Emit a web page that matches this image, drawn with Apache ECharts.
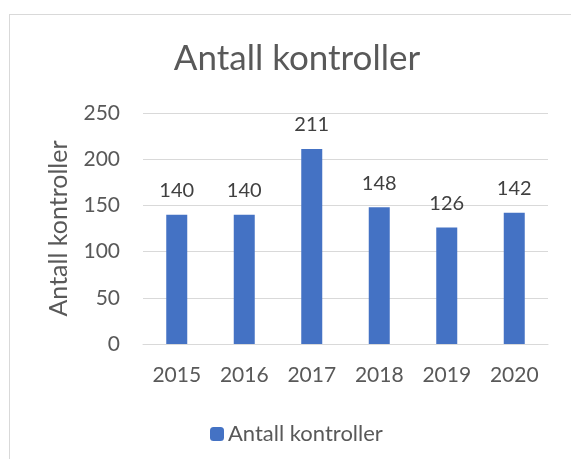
<!DOCTYPE html>
<html>
<head>
<meta charset="utf-8">
<script src="https://cdn.jsdelivr.net/npm/echarts@6/dist/echarts.min.js"></script>
<style>
  html, body { margin: 0; padding: 0; background: #fff; }
  #frame { position: absolute; left: 9px; top: 14px; width: 600px; height: 500px; border: 1px solid #d9d9d9; box-sizing: border-box; }
  #chart { position: absolute; left: 0; top: 0; width: 571px; height: 459px; }
</style>
</head>
<body>
<div id="frame"></div>
<div id="chart"></div>
<script>
// data
var years = ['2015', '2016', '2017', '2018', '2019', '2020'];
var kontroller = [140, 140, 211, 148, 126, 142];
var yTicks = [0, 50, 100, 150, 200, 250];

var font = 'Lato, "Open Sans", sans-serif';
var textColor = '#595959';

var chart = echarts.init(document.getElementById('chart'));
chart.setOption({
  animation: false,
  textStyle: { fontFamily: font },
  title: {
    text: 'Antall kontroller',
    left: 292,
    textAlign: 'center',
    top: 36,
    textStyle: { fontFamily: font, fontSize: 35, fontWeight: 'normal', color: textColor }
  },
  legend: {
    top: 418,
    left: 205,
    itemWidth: 14,
    itemHeight: 14,
    itemGap: 4,
    textStyle: { fontFamily: font, fontSize: 22, color: textColor, padding: [0, 0, 0, -1] },
    data: ['Antall kontroller']
  },
  grid: { left: 143, right: 23, top: 113, bottom: 115 },
  xAxis: {
    type: 'category',
    data: years,
    axisLine: { lineStyle: { color: '#d9d9d9', width: 1 } },
    axisTick: { show: false },
    axisLabel: { fontFamily: font, fontSize: 21, color: textColor, margin: 21 }
  },
  yAxis: {
    type: 'value',
    min: yTicks[0],
    max: yTicks[yTicks.length - 1],
    interval: 50,
    name: 'Antall kontroller',
    nameLocation: 'middle',
    nameGap: 72,
    nameTextStyle: { fontFamily: font, fontSize: 25, color: textColor },
    axisLine: { show: false },
    axisTick: { show: false },
    splitLine: { lineStyle: { color: '#d9d9d9', width: 1 } },
    axisLabel: { fontFamily: font, fontSize: 21, color: textColor, margin: 23 }
  },
  series: [{
    name: 'Antall kontroller',
    type: 'bar',
    data: kontroller,
    barWidth: 21,
    itemStyle: { color: '#4472C4' },
    label: {
      show: true,
      position: 'top',
      distance: 14,
      fontFamily: font,
      fontSize: 20,
      color: '#404040'
    }
  }]
});
</script>
</body>
</html>
